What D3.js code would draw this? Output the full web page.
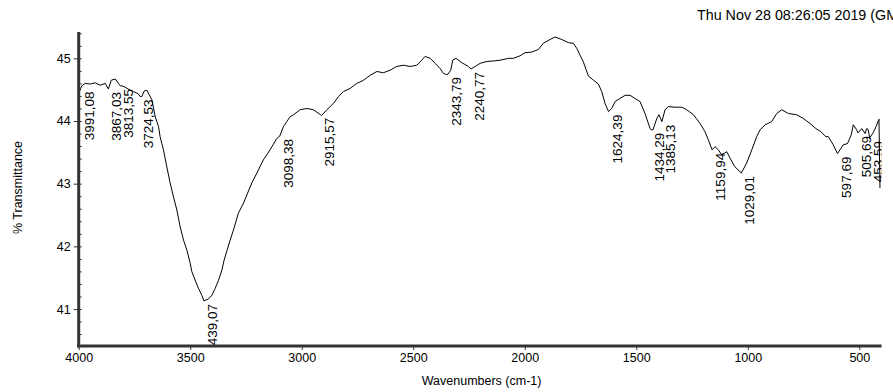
<!DOCTYPE html>
<html>
<head>
<meta charset="utf-8">
<script src="https://cdn.jsdelivr.net/npm/d3@7"></script>
<style>
  html, body { margin: 0; padding: 0; background: #fff; }
  svg { display: block; font-family: "Liberation Sans", Arial, sans-serif; }
</style>
</head>
<body>
<svg id="chart" width="893" height="392"></svg>
<script>
// FTIR spectrum: wavenumber (cm-1) and % transmittance
const wavenumbers = [
  3998, 3993, 3986, 3971, 3948, 3926, 3904, 3881, 3854, 3836, 3822, 3806, 3792, 3769,
  3754, 3732, 3717, 3706, 3694, 3684, 3672, 3657, 3642, 3635, 3620, 3605, 3590, 3575,
  3560, 3545, 3530, 3515, 3500, 3493, 3478, 3463, 3448, 3433, 3418, 3403, 3388, 3373,
  3358, 3348, 3321, 3306, 3284, 3261, 3246, 3224, 3201, 3172, 3142, 3112, 3082, 3067,
  3052, 3037, 3007, 2977, 2948, 2910, 2887, 2858, 2835, 2813, 2783, 2753, 2723, 2693,
  2663, 2634, 2604, 2574, 2544, 2514, 2484, 2462, 2447, 2424, 2402, 2380, 2365, 2350,
  2332, 2323, 2308, 2282, 2253, 2200, 2170, 2133, 2111, 2073, 2051, 2021, 1999, 1969,
  1939, 1917, 1887, 1864, 1834, 1804, 1782, 1767, 1752, 1737, 1715, 1692, 1670, 1655,
  1640, 1610, 1595, 1573, 1550, 1528, 1506, 1483, 1461, 1438, 1425, 1408, 1398, 1371,
  1356, 1326, 1296, 1274, 1244, 1214, 1192, 1177, 1147, 1132, 1117, 1094, 1080, 1058,
  1005, 982, 960, 945, 922, 893, 870, 848, 818, 781, 751, 721, 695, 673, 650, 639, 617,
  572, 553, 536, 527, 512, 489, 474, 467, 460, 440, 425, 413, 411.8, 407.3
];
const transmittance = [
  44.50, 44.49, 44.56, 44.60, 44.59, 44.61, 44.57, 44.60, 44.65, 44.67, 44.60, 44.56, 44.54, 44.49,
  44.47, 44.43, 44.39, 44.48, 44.49, 44.42, 44.34, 44.07, 43.91, 43.75, 43.54, 43.27, 43.01, 42.79,
  42.58, 42.31, 42.10, 41.94, 41.73, 41.60, 41.46, 41.33, 41.22, 41.14, 41.16, 41.22, 41.33, 41.46,
  41.62, 41.78, 42.10, 42.26, 42.53, 42.69, 42.82, 43.01, 43.17, 43.38, 43.54, 43.72, 43.91, 43.99,
  44.07, 44.10, 44.18, 44.20, 44.18, 44.09, 44.18, 44.28, 44.39, 44.47, 44.52, 44.60, 44.65, 44.73,
  44.79, 44.77, 44.81, 44.87, 44.89, 44.87, 44.89, 44.97, 45.03, 45.00, 44.92, 44.84, 44.76, 44.74,
  44.81, 44.97, 45.00, 44.93, 44.87, 44.92, 44.95, 44.96, 44.97, 45.00, 45.00, 45.04, 45.09, 45.10,
  45.14, 45.24, 45.30, 45.34, 45.30, 45.25, 45.24, 45.16, 45.05, 44.94, 44.72, 44.65, 44.59, 44.47,
  44.28, 44.20, 44.31, 44.36, 44.41, 44.41, 44.36, 44.31, 44.12, 43.88, 43.86, 44.04, 44.10, 44.18,
  44.23, 44.22, 44.22, 44.18, 44.10, 43.96, 43.83, 43.70, 43.59, 43.54, 43.46, 43.51, 43.41, 43.27,
  43.33, 43.54, 43.75, 43.86, 43.94, 43.99, 44.12, 44.18, 44.12, 44.10, 44.04, 43.96, 43.88, 43.83, 43.75, 43.75, 43.62,
  43.62, 43.64, 43.78, 43.94, 43.86, 43.88, 43.80, 43.88, 43.86, 43.80, 43.91, 44.02, 44.03, 42.93
];

// Labelled peaks
const peakWavenumbers = [3991.08, 3867.03, 3813.55, 3724.53, 3439.07, 3098.38, 2915.57, 2343.79,
  2240.77, 1624.39, 1434.29, 1385.13, 1159.94, 1029.01, 597.69, 505.69, 453.59];
const peakTransmittance = [44.52, 44.51, 44.56, 44.39, 41.13, 43.76, 44.10, 44.75,
  44.83, 44.15, 43.86, 43.99, 43.54, 43.17, 43.48, 43.81, 43.73];
const peakLabels = ["3991,08", "3867,03", "3813,55", "3724,53", "3439,07", "3098,38", "2915,57", "2343,79",
  "2240,77", "1624,39", "1434,29", "1385,13", "1159,94", "1029,01", "597,69", "505,69", "453,59"];

const xTicks = [4000, 3500, 3000, 2500, 2000, 1500, 1000, 500];
const yTicks = [41, 42, 43, 44, 45];
const yMinorTicks = d3.range(40.6, 45.41, 0.2).map(v => +v.toFixed(1));

const headerText = "Thu Nov 28 08:26:05 2019 (GMT+03:00)";
const xTitle = "Wavenumbers (cm-1)";
const yTitle = "% Transmittance";

const svg = d3.select("#chart");
const W = 893, H = 392;
const margin = { left: 78.7, right: 11.5, top: 32, bottom: 46 };
const plotW = W - margin.left - margin.right;
const plotH = H - margin.top - margin.bottom;

const x = d3.scaleLinear().domain([4000, 400.5]).range([0, plotW]);
const y = d3.scaleLinear().domain([40.41, 45.42]).range([plotH, 0]);

const g = svg.append("g").attr("transform", `translate(${margin.left},${margin.top})`);

g.append("clipPath").attr("id", "plot-clip")
  .append("rect").attr("x", 0).attr("y", 0).attr("width", plotW).attr("height", plotH);

// Spectrum trace, with labelled peaks merged in
const points = wavenumbers.map((w, i) => ({ w, t: transmittance[i] }))
  .concat(peakWavenumbers.map((w, i) => ({ w, t: peakTransmittance[i] })))
  .sort((a, b) => b.w - a.w);

const line = d3.line().x(d => x(d.w)).y(d => y(d.t));
g.append("path")
  .datum(points)
  .attr("clip-path", "url(#plot-clip)")
  .attr("fill", "none")
  .attr("stroke", "#000")
  .attr("stroke-width", 1)
  .attr("stroke-linejoin", "round")
  .attr("d", line);

// Peak labels, vertical, hanging below each peak
const labels = g.append("g").attr("clip-path", "url(#plot-clip)");
labels.selectAll("text")
  .data(peakWavenumbers)
  .join("text")
  .attr("transform", (w, i) => `translate(${x(w) + 13},${y(peakTransmittance[i]) + 3}) rotate(-90)`)
  .attr("text-anchor", "end")
  .attr("font-size", "13.5px")
  .attr("fill", "#000")
  .text((w, i) => peakLabels[i]);

// Axes
const axisColor = "#333";
const xAxis = g.append("g").attr("transform", `translate(0,${plotH})`)
  .call(d3.axisBottom(x).tickValues(xTicks).tickSize(4).tickSizeOuter(0).tickFormat(d3.format("d")));
const yAxis = g.append("g")
  .call(d3.axisLeft(y).tickValues(yTicks).tickSize(5).tickSizeOuter(0).tickFormat(d3.format("d")));
const yMinor = g.append("g")
  .call(d3.axisRight(y).tickValues(yMinorTicks).tickSize(3).tickSizeOuter(0).tickFormat(""));
yMinor.select(".domain").remove();

[xAxis, yAxis, yMinor].forEach(a => {
  a.selectAll("line").attr("stroke", axisColor);
  a.selectAll("text").attr("fill", "#000").attr("font-size", "12.5px")
    .attr("font-family", "'Liberation Sans', Arial, sans-serif");
});
xAxis.select(".domain").attr("stroke", axisColor).attr("stroke-width", 3)
  .attr("d", `M-1.5,0H${plotW}`);
yAxis.select(".domain").attr("stroke", axisColor).attr("stroke-width", 3)
  .attr("d", `M0,0V${plotH + 1.5}`);

// Titles
svg.append("text")
  .attr("x", margin.left + plotW / 2 + 1.5)
  .attr("y", 385)
  .attr("text-anchor", "middle")
  .attr("font-size", "12.5px")
  .text(xTitle);

svg.append("text")
  .attr("transform", `translate(22,187.5) rotate(-90)`)
  .attr("text-anchor", "middle")
  .attr("font-size", "12.5px")
  .text(yTitle);

svg.append("text")
  .attr("x", 697)
  .attr("y", 20)
  .attr("font-size", "14.3px")
  .text(headerText);
</script>
</body>
</html>
